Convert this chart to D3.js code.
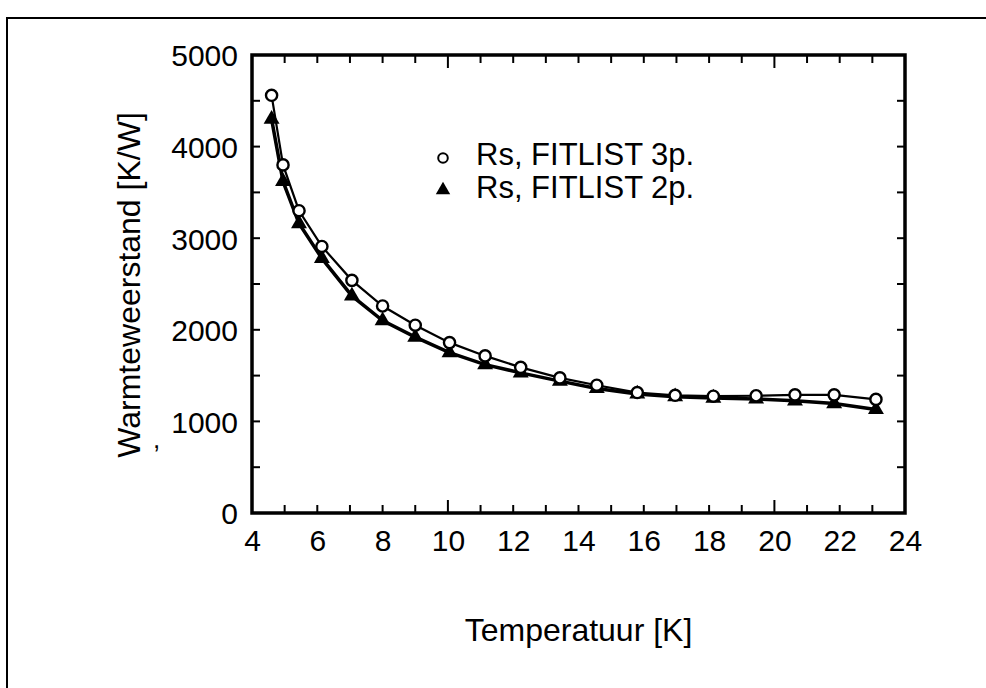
<!DOCTYPE html>
<html><head><meta charset="utf-8">
<script src="https://cdn.jsdelivr.net/npm/d3@7"></script>
<style>body{margin:0;background:#fff}svg{display:block}text{font-family:"Liberation Sans",Arial,sans-serif;fill:#000}</style>
</head><body><svg id="c" width="986" height="688"></svg>
<script>
const temps = [4.6, 4.95, 5.44, 6.14, 7.06, 8.0, 9.0, 10.05, 11.14, 12.23, 13.43, 14.56, 15.8, 16.96, 18.13, 19.44, 20.63, 21.83, 23.11];
const rs3p = [4560, 3800, 3300, 2910, 2540, 2260, 2050, 1860, 1715, 1590, 1475, 1395, 1315, 1285, 1275, 1280, 1290, 1290, 1240];
const rs2p = [4300, 3620, 3160, 2780, 2370, 2100, 1920, 1750, 1620, 1530, 1440, 1360, 1300, 1270, 1255, 1245, 1225, 1195, 1130];
const xTicks = [4, 6, 8, 10, 12, 14, 16, 18, 20, 22, 24];
const yTicks = [0, 1000, 2000, 3000, 4000, 5000];
const seriesNames = ["Rs, FITLIST 3p.", "Rs, FITLIST 2p."];
const xTitle = "Temperatuur [K]";
const yTitle = "Warmteweerstand [K/W]";

const svg = d3.select("#c");
const L = 252, R = 905, T = 55, B = 513;
const x = d3.scaleLinear().domain([4, 24]).range([L, R]);
const y = d3.scaleLinear().domain([0, 5000]).range([B, T]);

// outer frame (cropped)
svg.append("path").attr("d", "M7,700 V18 H1000").attr("fill", "none").attr("stroke", "#000").attr("stroke-width", 2);

// minor ticks, inward
const xMinor = d3.range(5, 24, 1);
const yMinor = d3.range(500, 5000, 500);
const tg = svg.append("g").attr("stroke", "#000").attr("stroke-width", 2);
xMinor.forEach(v => {
  const len = (v % 10 === 0) ? 13 : 8;
  tg.append("line").attr("x1", x(v)).attr("x2", x(v)).attr("y1", B).attr("y2", B - len);
  tg.append("line").attr("x1", x(v)).attr("x2", x(v)).attr("y1", T).attr("y2", T + len);
});
yMinor.forEach(v => {
  tg.append("line").attr("x1", L).attr("x2", L + 8).attr("y1", y(v)).attr("y2", y(v));
  tg.append("line").attr("x1", R).attr("x2", R - 8).attr("y1", y(v)).attr("y2", y(v));
});

// axes with labels
const xa = svg.append("g").attr("transform", `translate(0,${B})`)
  .call(d3.axisBottom(x).tickValues(xTicks).tickSize(0).tickPadding(17).tickFormat(d3.format("d")));
xa.select(".domain").remove();
xa.selectAll("text").attr("font-size", 30).attr("font-family", "Liberation Sans, Arial, sans-serif").attr("fill", "#000");
const ya = svg.append("g").attr("transform", `translate(${L},0)`)
  .call(d3.axisLeft(y).tickValues(yTicks).tickSize(0).tickPadding(14).tickFormat(d3.format("d")));
ya.select(".domain").remove();
ya.selectAll("text").attr("font-size", 30).attr("font-family", "Liberation Sans, Arial, sans-serif").attr("fill", "#000").attr("dy", "0.36em");

// frame
svg.append("rect").attr("x", L).attr("y", T).attr("width", R - L).attr("height", B - T)
  .attr("fill", "none").attr("stroke", "#000").attr("stroke-width", 3.5);

// lines
const line = d3.line().x(d => x(d[0])).y(d => y(d[1]));
const d3p = temps.map((t, i) => [t, rs3p[i]]);
const d2p = temps.map((t, i) => [t, rs2p[i]]);
svg.append("path").datum(d2p).attr("d", line).attr("fill", "none").attr("stroke", "#000").attr("stroke-width", 3.5);
svg.append("path").datum(d3p).attr("d", line).attr("fill", "none").attr("stroke", "#000").attr("stroke-width", 2.2);

const tri = d3.symbol().type(d3.symbolTriangle).size(110);
svg.append("g").selectAll("path").data(d2p).join("path")
  .attr("d", tri).attr("transform", d => `translate(${x(d[0])},${y(d[1])})`).attr("fill", "#000");
svg.append("g").selectAll("circle").data(d3p).join("circle")
  .attr("cx", d => x(d[0])).attr("cy", d => y(d[1])).attr("r", 5.6)
  .attr("fill", "#fff").attr("stroke", "#000").attr("stroke-width", 2.4);

// legend
svg.append("circle").attr("cx", 443).attr("cy", 158).attr("r", 4.8).attr("fill", "#fff").attr("stroke", "#000").attr("stroke-width", 2);
svg.append("path").attr("d", d3.symbol().type(d3.symbolTriangle).size(90)).attr("transform", "translate(443,190)").attr("fill", "#000");
svg.append("text").attr("x", 476).attr("y", 165).attr("font-size", 31).text(seriesNames[0]);
svg.append("text").attr("x", 476).attr("y", 198).attr("font-size", 31).text(seriesNames[1]);

// titles
svg.append("text").attr("x", (L + R) / 2).attr("y", 641).attr("text-anchor", "middle").attr("font-size", 32).text(xTitle);
svg.append("text").attr("transform", "translate(140,285) rotate(-90)").attr("text-anchor", "middle").attr("font-size", 32).text(yTitle);
// scan mark
svg.append("text").attr("x", 153).attr("y", 448).attr("font-size", 26).text(",");
</script></body></html>
